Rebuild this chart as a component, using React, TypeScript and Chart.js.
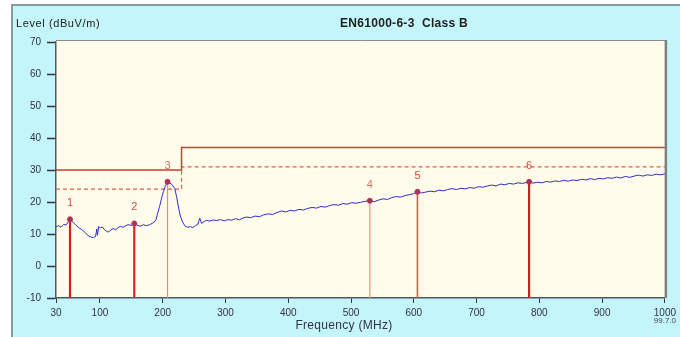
import React, { useEffect, useRef } from "react";
import { Chart, registerables } from "chart.js";

Chart.register(...registerables);

// Measured trace (frequency MHz / level dBuV/m)
const freqs = [
  30, 34, 38, 42, 46, 50, 52.3, 55, 58, 62, 66, 70, 74, 78, 82, 86, 90, 93, 95, 96, 98,
  101, 104, 107, 110, 113, 117, 121, 125, 129, 133, 137, 141, 145, 150, 154.7, 159, 164,
  169, 174, 179, 184, 189, 192, 195, 198, 201, 204, 207.7, 211, 215, 219, 222, 225, 228,
  232, 236, 240, 244, 248, 252, 256, 259, 262, 266, 270, 275, 280, 286, 292, 298, 304,
  310, 316, 322, 328, 334, 340, 347, 354, 361, 368, 375, 382, 389, 396, 403, 410, 417,
  424, 431, 438, 445, 452, 459, 466, 473, 480, 487, 494, 501, 508, 515, 522, 530, 537,
  544, 551, 558, 565, 572, 579, 586, 593, 600, 605.8, 612, 619, 626, 633, 640, 647, 654,
  661, 668, 675, 682, 689, 696, 703, 710, 717, 724, 731, 738, 745, 752, 759, 766, 773,
  783.7, 790, 797, 804, 811, 818, 825, 832, 839, 846, 853, 860, 867, 874, 881, 888, 895,
  902, 909, 916, 923, 930, 937, 944, 951, 958, 965, 972, 979, 986, 993, 1000,
];
const levels = [
  12.2, 12.6, 12.1, 13.0, 12.8, 13.9, 14.6, 14.1, 13.5, 12.7, 12.0, 11.5, 10.9, 10.1, 9.4,
  9.0, 8.9, 9.2, 11.6, 9.6, 12.3, 11.9, 12.2, 11.4, 10.9, 10.6, 11.2, 11.7, 11.3, 12.0,
  12.4, 12.1, 12.6, 12.9, 12.7, 13.3, 12.8, 12.4, 12.9, 12.6, 12.9, 13.4, 14.2, 16.5, 18.6,
  21.0, 23.2, 24.9, 26.3, 26.0, 25.4, 24.3, 21.8, 18.5, 15.6, 13.6, 12.4, 12.1, 12.3, 12.0,
  12.6, 13.1, 14.9, 13.3, 13.9, 14.3, 14.0, 14.4, 14.2, 14.5, 14.1, 14.5, 14.3, 14.8, 14.4,
  15.0, 15.3, 15.1, 15.6, 15.4, 16.0, 16.3, 16.1, 16.7, 17.2, 16.9, 17.4, 17.2, 17.7, 17.5,
  18.0, 18.3, 18.1, 18.6, 18.4, 18.9, 19.2, 19.0, 19.5, 19.3, 19.8, 19.6, 19.9, 20.2, 20.4,
  20.1, 20.6, 21.0, 20.8, 21.4, 21.7, 21.5, 22.0, 22.3, 22.6, 23.2, 22.8, 23.1, 23.4, 23.2,
  23.7, 23.5, 23.9, 24.2, 23.9, 24.3, 24.1, 24.5, 24.3, 24.8, 24.6, 25.0, 25.3, 25.0, 25.6,
  25.4, 25.8, 25.6, 26.0, 25.8, 26.3, 25.9, 26.2, 26.0, 26.4, 26.2, 26.6, 26.4, 26.8, 26.5,
  26.9, 26.7, 27.1, 26.9, 27.3, 27.0, 27.4, 27.2, 27.6, 27.4, 27.8, 27.5, 28.0, 27.7, 28.1,
  28.4, 28.1, 28.5, 28.3, 28.7, 28.5, 28.8,
];

// Limit lines (EN61000-6-3 Class B) and margin line
const limitFreqs = [30, 230, 230, 1000];
const limitLevels = [30, 30, 37, 37];
const marginLevels = [24, 24, 31, 31];

// Markers
const markerLabels = ["1", "2", "3", "4", "5", "6"];
const markerFreqs = [52.3, 154.7, 207.7, 530, 605.8, 783.7];
const markerLevels = [14.6, 13.3, 26.3, 20.4, 23.2, 26.3];
const markerColors = ["#cc2222", "#cc2a2a", "#e08c7c", "#e6907c", "#d65a48", "#c82020"];
const markerWidths = [2.2, 2.2, 1.2, 1.2, 1.6, 2.2];

// Axes
const xTickValues = [30, 100, 200, 300, 400, 500, 600, 700, 800, 900, 1000];
const yMin = -10;
const yMax = 70;

const title = "EN61000-6-3  Class B";
const yTitle = "Level (dBuV/m)";
const xTitle = "Frequency (MHz)";

const framePlugin = {
  id: "frame",
  beforeDraw(chart: any) {
    const { ctx, chartArea: a, width, height } = chart;
    ctx.save();
    ctx.fillStyle = "#ffffff";
    ctx.fillRect(0, 0, width, height);
    ctx.fillStyle = "#c4f5fa";
    ctx.fillRect(12, 5, width - 12, height - 5);
    ctx.strokeStyle = "#8a9a9c";
    ctx.lineWidth = 2;
    ctx.beginPath();
    ctx.moveTo(12, height);
    ctx.lineTo(12, 5);
    ctx.lineTo(width, 5);
    ctx.stroke();
    ctx.fillStyle = "#fffcec";
    ctx.fillRect(a.left, a.top - 1, a.right - a.left, a.bottom - a.top + 1);
    ctx.strokeStyle = "#8c8c8c";
    ctx.lineWidth = 1;
    ctx.beginPath();
    ctx.moveTo(a.left, a.top - 1.5);
    ctx.lineTo(a.right + 2, a.top - 1.5);
    ctx.stroke();
    ctx.lineWidth = 2.5;
    ctx.strokeStyle = "#808080";
    ctx.beginPath();
    ctx.moveTo(a.right + 1, a.top - 2);
    ctx.lineTo(a.right + 1, a.bottom);
    ctx.stroke();
    ctx.restore();
  },
  afterDraw(chart: any) {
    const { ctx, scales } = chart;
    const xs = scales.x;
    const ys = scales.y;
    ctx.save();
    ctx.textBaseline = "middle";
    ctx.fillStyle = "#222222";
    ctx.font = "11px 'Liberation Sans', Arial, sans-serif";
    ctx.textAlign = "left";
    try { (ctx as any).letterSpacing = "0.6px"; } catch (e) {}
    ctx.fillText(yTitle, 16, 24);
    try { (ctx as any).letterSpacing = "0.3px"; } catch (e) {}
    ctx.font = "bold 12px 'Liberation Sans', Arial, sans-serif";
    ctx.textAlign = "center";
    ctx.fillText(title, 404, 24);
    ctx.font = "12px 'Liberation Sans', Arial, sans-serif";
    ctx.fillStyle = "#333344";
    ctx.fillText(xTitle, 344, 326);
    try { (ctx as any).letterSpacing = "0px"; } catch (e) {}
    ctx.font = "8px 'Liberation Sans', Arial, sans-serif";
    ctx.fillStyle = "#444455";
    ctx.fillText("99.7.0", xs.getPixelForValue(1000), 321);
    ctx.font = "11px 'Liberation Sans', Arial, sans-serif";
    markerLabels.forEach((lab, i) => {
      ctx.fillStyle = i === 2 || i === 3 ? "#e07060" : "#d84a3a";
      ctx.fillText(lab, xs.getPixelForValue(markerFreqs[i]), ys.getPixelForValue(markerLevels[i]) - 16);
    });
    ctx.restore();
  },
};

export default function App() {
  const ref = useRef<HTMLCanvasElement | null>(null);
  useEffect(() => {
    document.body.style.margin = "0";
    const canvas = ref.current;
    if (!canvas) return;
    const trace = freqs.map((f, i) => ({ x: f, y: levels[i] }));
    const limit = limitFreqs.map((f, i) => ({ x: f, y: limitLevels[i] }));
    const margin = limitFreqs.map((f, i) => ({ x: f, y: marginLevels[i] }));
    const markerLines = markerFreqs.map((f, i) => ({
      type: "line" as const,
      data: [
        { x: f, y: yMin },
        { x: f, y: markerLevels[i] },
      ],
      borderColor: markerColors[i],
      borderWidth: markerWidths[i],
      pointRadius: 0,
      order: 1,
    }));
    const chart = new Chart(canvas, {
      type: "line",
      data: {
        datasets: [
          {
            data: limit,
            borderColor: "#d23a2e",
            borderWidth: 1.5,
            pointRadius: 0,
            order: 4,
          },
          {
            data: margin,
            borderColor: "#e0604a",
            borderWidth: 1.2,
            borderDash: [4, 3],
            pointRadius: 0,
            order: 4,
          },
          {
            data: trace,
            borderColor: "#2e2ec8",
            borderWidth: 1,
            pointRadius: 0,
            order: 2,
          },
          ...markerLines,
          {
            data: markerFreqs.map((f, i) => ({ x: f, y: markerLevels[i] })),
            showLine: false,
            pointRadius: 2.5,
            pointBackgroundColor: "#a03070",
            pointBorderColor: "#c03040",
            pointBorderWidth: 1,
            order: 0,
          },
        ] as any,
      },
      options: {
        animation: false,
        responsive: false,
        events: [],
        layout: { padding: { top: 42, right: 14, left: 0, bottom: 0 } },
        plugins: { legend: { display: false }, tooltip: { enabled: false }, title: { display: false } },
        scales: {
          x: {
            type: "linear",
            min: 30,
            max: 1000,
            afterBuildTicks: (s: any) => {
              s.ticks = xTickValues.map((v) => ({ value: v }));
            },
            afterFit: (s: any) => {
              s.height = 39;
            },
            ticks: {
              autoSkip: false,
              maxRotation: 0,
              padding: 4,
              color: "#333344",
              font: { size: 10, family: "'Liberation Sans', Arial, sans-serif" },
              callback: (v: any) => String(v),
            },
            grid: { drawOnChartArea: false, drawTicks: true, tickLength: 5, tickColor: "#334", tickWidth: 1 },
            border: { display: true, color: "#4a5a60", width: 1.5 },
          },
          y: {
            type: "linear",
            min: yMin,
            max: yMax,
            afterFit: (s: any) => {
              s.width = 56;
            },
            ticks: {
              stepSize: 10,
              padding: 6,
              color: "#333344",
              font: { size: 10, family: "'Liberation Sans', Arial, sans-serif" },
            },
            grid: { drawOnChartArea: false, drawTicks: true, tickLength: 9, tickColor: "#334", tickWidth: 1.5 },
            border: { display: true, color: "#4a5a60", width: 1.5 },
          },
        },
      },
      plugins: [framePlugin],
    });
    return () => chart.destroy();
  }, []);
  return (
    <div style={{ width: 680, height: 337 }}>
      <canvas ref={ref} width={680} height={337} style={{ display: "block" }} />
    </div>
  );
}
